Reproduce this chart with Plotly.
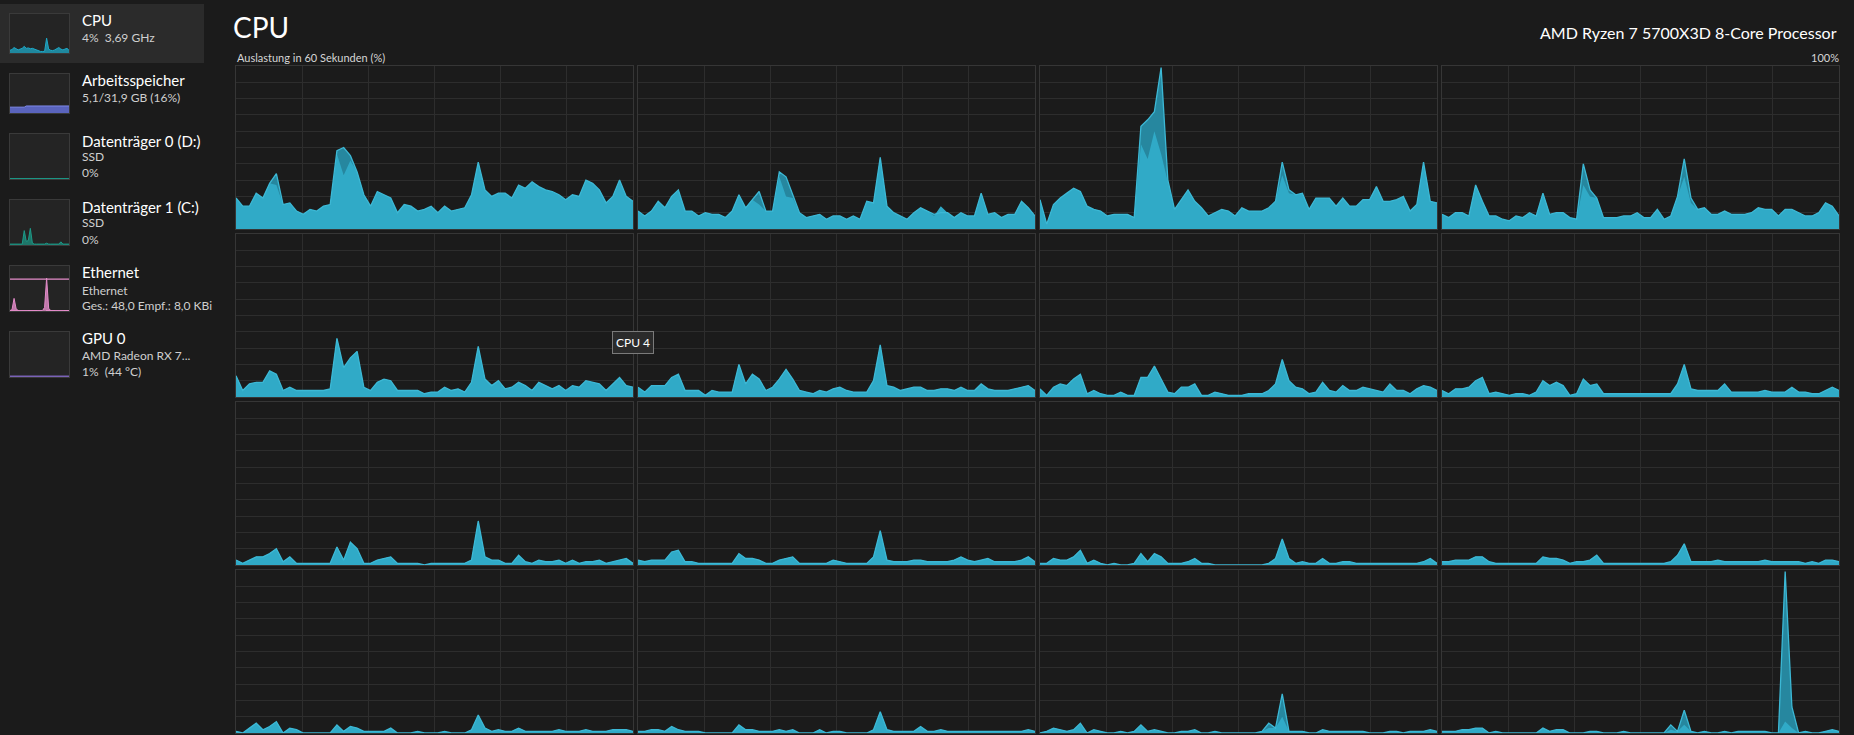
import plotly.graph_objects as go

W, H = 1854, 735
BG = "#1b1b1b"
FONT = "Segoe UI, Lato, sans-serif"

# per-core utilisation in %, one sample per second (60 s window)
cpu0 = [19, 14, 14, 22, 19, 28, 34, 15, 16, 11, 9, 12, 11, 14, 15, 48, 50, 45, 35, 21,
        14, 23, 21, 19, 10, 15, 14, 11, 12, 14, 10, 14, 11, 12, 13, 21, 41, 24, 20, 22,
        22, 19, 27, 25, 29, 26, 24, 23, 21, 18, 21, 20, 30, 28, 24, 16, 20, 30, 20, 17]
cpu1 = [11, 8, 11, 17, 13, 20, 24, 11, 11, 8, 10, 9, 9, 7, 11, 21, 13, 18, 23, 11,
        11, 35, 32, 21, 10, 7, 8, 9, 6, 8, 8, 6, 8, 6, 17, 16, 44, 14, 10, 8,
        6, 10, 13, 11, 9, 10, 10, 7, 10, 8, 8, 22, 9, 10, 7, 9, 9, 17, 13, 8]
cpu2 = [18, 3, 15, 19, 22, 25, 23, 14, 12, 11, 8, 9, 9, 9, 7, 63, 67, 72, 99, 30,
        12, 18, 24, 17, 13, 8, 10, 12, 11, 8, 13, 11, 11, 11, 13, 17, 41, 24, 21, 22,
        12, 19, 19, 19, 14, 19, 14, 14, 18, 18, 26, 17, 17, 18, 20, 11, 15, 41, 17, 16]
cpu3 = [9, 7, 10, 10, 8, 27, 17, 8, 8, 6, 5, 8, 7, 10, 8, 22, 9, 10, 10, 7,
        6, 40, 24, 19, 7, 7, 7, 8, 8, 10, 7, 7, 12, 6, 8, 20, 43, 19, 12, 13,
        9, 9, 11, 9, 9, 9, 10, 13, 12, 12, 8, 12, 12, 10, 8, 8, 10, 16, 14, 8]
cpu4 = [13, 4, 8, 9, 9, 16, 14, 4, 6, 4, 4, 4, 4, 4, 5, 36, 18, 24, 28, 6,
        4, 9, 11, 10, 4, 4, 4, 4, 2, 3, 3, 6, 4, 5, 3, 9, 31, 11, 7, 10,
        5, 6, 9, 7, 4, 9, 7, 5, 7, 4, 7, 6, 10, 9, 8, 4, 8, 12, 7, 6]
cpu5 = [6, 3, 7, 7, 7, 12, 14, 4, 4, 4, 1, 4, 3, 3, 3, 20, 8, 14, 11, 4,
        6, 11, 17, 11, 4, 3, 2, 4, 3, 5, 6, 4, 3, 3, 3, 10, 32, 7, 6, 4,
        5, 6, 6, 4, 4, 5, 5, 4, 6, 4, 4, 8, 5, 4, 4, 4, 5, 6, 7, 4]
cpu6 = [5, 1, 6, 8, 7, 11, 14, 2, 4, 2, 1, 1, 3, 1, 1, 12, 12, 19, 11, 3,
        2, 6, 6, 8, 1, 1, 3, 2, 1, 1, 1, 2, 2, 2, 4, 8, 23, 10, 6, 5,
        2, 3, 9, 4, 3, 7, 4, 4, 6, 5, 4, 3, 8, 4, 4, 2, 5, 7, 6, 4]
cpu7 = [4, 2, 5, 5, 6, 10, 12, 2, 3, 2, 1, 2, 2, 1, 3, 10, 7, 9, 7, 1,
        2, 11, 7, 8, 2, 2, 2, 2, 2, 2, 2, 2, 2, 2, 2, 8, 20, 5, 4, 4,
        4, 4, 8, 3, 3, 3, 3, 3, 4, 3, 3, 3, 6, 3, 3, 2, 2, 4, 6, 4]
cpu8 = [3, 1, 3, 5, 5, 7, 10, 2, 5, 1, 1, 1, 1, 1, 1, 11, 3, 14, 10, 1,
        1, 3, 4, 5, 1, 1, 1, 1, 0, 1, 1, 1, 1, 1, 1, 3, 27, 5, 3, 3,
        1, 1, 6, 2, 1, 3, 2, 2, 3, 1, 3, 1, 2, 2, 3, 1, 2, 3, 4, 1]
cpu9 = [3, 2, 3, 3, 3, 8, 9, 2, 2, 1, 1, 1, 1, 1, 1, 7, 4, 4, 3, 1,
        1, 3, 4, 5, 1, 1, 1, 1, 1, 3, 2, 1, 1, 1, 1, 5, 21, 3, 2, 2,
        2, 3, 3, 2, 2, 2, 2, 3, 5, 3, 2, 3, 4, 2, 2, 2, 2, 3, 5, 2]
cpu10 = [1, 1, 4, 3, 3, 5, 9, 1, 3, 1, 0, 1, 0, 0, 1, 7, 2, 7, 5, 1,
         1, 1, 2, 4, 1, 1, 0, 0, 0, 0, 0, 0, 0, 0, 1, 4, 16, 4, 1, 2,
         1, 1, 4, 1, 1, 2, 2, 1, 1, 1, 1, 1, 1, 1, 1, 1, 1, 2, 4, 1]
cpu11 = [2, 2, 3, 3, 3, 5, 5, 2, 1, 1, 1, 1, 1, 1, 1, 5, 4, 4, 3, 1,
         2, 2, 3, 6, 1, 1, 1, 1, 1, 1, 1, 1, 1, 1, 2, 6, 13, 2, 2, 2,
         2, 3, 2, 2, 2, 2, 2, 2, 3, 2, 2, 2, 2, 2, 1, 2, 1, 3, 3, 2]
cpu12 = [1, 0, 3, 6, 2, 4, 7, 0, 3, 2, 0, 0, 0, 0, 0, 5, 1, 4, 3, 1,
         1, 1, 1, 3, 0, 0, 0, 1, 0, 0, 0, 1, 0, 0, 0, 2, 11, 3, 1, 2,
         1, 1, 3, 1, 1, 1, 1, 1, 2, 1, 1, 1, 2, 1, 1, 1, 2, 2, 2, 1]
cpu13 = [1, 1, 2, 2, 1, 4, 2, 1, 1, 1, 0, 0, 0, 0, 0, 5, 2, 2, 1, 1,
         1, 2, 1, 2, 0, 0, 0, 2, 0, 1, 1, 0, 0, 0, 0, 2, 13, 2, 1, 1,
         1, 1, 4, 1, 1, 2, 1, 1, 1, 1, 1, 1, 1, 1, 1, 1, 1, 1, 2, 1]
cpu14 = [0, 1, 3, 2, 1, 2, 6, 0, 2, 1, 0, 0, 1, 0, 1, 5, 1, 2, 1, 0,
         0, 1, 1, 2, 0, 0, 1, 0, 0, 0, 0, 0, 0, 1, 6, 3, 24, 1, 1, 1,
         0, 0, 2, 1, 1, 1, 1, 1, 1, 0, 0, 0, 1, 1, 0, 1, 1, 1, 2, 1]
cpu15 = [1, 1, 1, 2, 2, 3, 3, 0, 1, 0, 0, 0, 0, 0, 0, 3, 1, 2, 2, 0,
         0, 0, 1, 1, 0, 0, 0, 1, 0, 0, 0, 0, 0, 0, 5, 1, 14, 1, 0, 1,
         0, 0, 1, 0, 1, 1, 1, 1, 1, 0, 0, 99, 16, 0, 1, 0, 0, 1, 2, 1]

cores = [cpu0, cpu1, cpu2, cpu3, cpu4, cpu5, cpu6, cpu7,
         cpu8, cpu9, cpu10, cpu11, cpu12, cpu13, cpu14, cpu15]
core_names = [f"CPU {i}" for i in range(16)]

# lighter (user) part, only listed where it sits below the total
user_part = {
    0: {6: 27, 15: 46, 16: 33, 17: 42},
    1: {18: 15, 21: 32, 22: 20, 23: 19, 44: 8, 45: 14},
    2: {15: 52, 16: 43, 17: 60, 18: 46, 19: 29, 36: 33, 37: 22},
    3: {21: 27, 22: 20, 36: 32, 37: 16},
    14: {34: 3, 36: 10},
    15: {34: 2, 36: 5, 51: 7, 52: 3},
}

# sidebar thumbnails
cpu_thumb = [7, 9, 14, 10, 8, 10, 12, 17, 12, 13, 11, 12, 10, 8, 4,
             4, 4, 4, 38, 10, 7, 6, 8, 10, 14, 10, 8, 10, 12, 7]
mem_thumb = [15, 15, 15, 15, 15, 15, 15, 15, 18, 18, 18, 18, 18, 18, 18,
             18, 18, 18, 18, 18, 18, 18, 18, 18, 18, 18, 18, 18, 18, 18]
disk0_thumb = [1, 1, 1, 1, 1, 1, 1, 1, 1, 1, 1, 1, 1, 1, 1,
               1, 1, 1, 1, 1, 1, 1, 1, 1, 1, 1, 1, 1, 1, 1]
disk1_thumb = [2, 2, 2, 2, 2, 3, 2, 32, 8, 10, 37, 4, 2, 2, 2,
               2, 2, 2, 4, 2, 2, 2, 2, 2, 2, 7, 2, 2, 2, 2]
eth_thumb = [1, 3, 28, 5, 1, 1, 1, 1, 1, 1, 1, 1, 1, 1, 1,
             1, 1, 8, 73, 6, 1, 1, 1, 1, 1, 1, 1, 1, 1, 1]
eth_recv = [1, 1, 1, 1, 1, 1, 1, 1, 1, 1, 1, 1, 1, 1, 1,
            1, 1, 1, 1, 1, 1, 1, 1, 1, 1, 1, 1, 1, 1, 1]
eth_scale = 71
gpu_thumb = [2, 2, 2, 2, 2, 2, 2, 2, 2, 3, 2, 2, 2, 2, 2,
             2, 2, 2, 2, 2, 3, 3, 2, 2, 2, 2, 2, 2, 3, 2]

sidebar = [
    ("CPU", ["4%  3,69 GHz"]),
    ("Arbeitsspeicher", ["5,1/31,9 GB (16%)"]),
    ("Datenträger 0 (D:)", ["SSD", "0%"]),
    ("Datenträger 1 (C:)", ["SSD", "0%"]),
    ("Ethernet", ["Ethernet", "Ges.: 48,0 Empf.: 8,0 KBi"]),
    ("GPU 0", ["AMD Radeon RX 7...", "1%  (44 °C)"]),
]

LIGHT = "#30aac7"
DARK = "#26879f"
EDGE = "#3cb8d5"

seconds = [k * 60 / 59 for k in range(60)]
thumb_x = list(range(30))

fig = go.Figure()
axes = {}


def ax_keys(n):
    s = "" if n == 1 else str(n)
    return "x" + s, "y" + s, "xaxis" + s, "yaxis" + s


def domx(x0, x1):
    return [x0 / W, x1 / W]


def domy(y0, y1):
    return [1 - y1 / H, 1 - y0 / H]


panel_axis = dict(showgrid=True, gridcolor="#2d2d2d", gridwidth=1, showline=True,
                  linecolor="#363636", linewidth=1, mirror=True, zeroline=False,
                  showticklabels=False, ticks="", fixedrange=True)

for i, vals in enumerate(cores):
    r, c = divmod(i, 4)
    x0 = 236 + c * 402
    y0 = 66 + r * 168
    xa, ya, xk, yk = ax_keys(i + 1)
    lower = [user_part.get(i, {}).get(k, v) for k, v in enumerate(vals)]
    fig.add_trace(go.Scatter(x=seconds, y=vals, xaxis=xa, yaxis=ya, mode="lines",
                             fill="tozeroy", fillcolor=DARK, line=dict(width=0),
                             hoverinfo="skip", name=core_names[i]))
    fig.add_trace(go.Scatter(x=seconds, y=lower, xaxis=xa, yaxis=ya, mode="lines",
                             fill="tozeroy", fillcolor=LIGHT, line=dict(width=0),
                             hoverinfo="skip", name=core_names[i]))
    fig.add_trace(go.Scatter(x=seconds, y=vals, xaxis=xa, yaxis=ya, mode="lines",
                             line=dict(color=EDGE, width=1.3), hoverinfo="skip",
                             name=core_names[i]))
    axes[xk] = dict(domain=domx(x0, x0 + 397), range=[0, 60], dtick=10, anchor=ya, **panel_axis)
    axes[yk] = dict(domain=domy(y0, y0 + 163), range=[0, 100], dtick=10, anchor=xa, **panel_axis)

thumb_axis = dict(showgrid=False, showline=True, linecolor="#3a3a3a", linewidth=1,
                  mirror=True, zeroline=False, showticklabels=False, ticks="",
                  fixedrange=True)

thumbs = [
    (cpu_thumb, 14, 53, "#1ea9c8", "rgba(30,169,200,0.75)"),
    (mem_thumb, 74, 113, "#7e89ea", "rgba(96,108,206,0.9)"),
    (disk0_thumb, 134, 179, "#1c9a88", "rgba(28,154,136,0.6)"),
    (disk1_thumb, 200, 245, "#1c9a88", "rgba(28,154,136,0.7)"),
    (eth_thumb, 266, 311, "#e58cca", "rgba(229,140,202,0.8)"),
    (gpu_thumb, 332, 377, "#8c6fd4", "rgba(140,111,212,0.6)"),
]

shapes = [dict(type="rect", xref="paper", yref="paper", x0=0, x1=204 / W,
               y0=1 - 63 / H, y1=1 - 4 / H, fillcolor="#2b2b2b", line=dict(width=0),
               layer="below")]

for j, (vals, ty0, ty1, lc, fc) in enumerate(thumbs):
    n = 17 + j
    xa, ya, xk, yk = ax_keys(n)
    shapes.append(dict(type="rect", xref="paper", yref="paper", x0=10 / W, x1=69 / W,
                       y0=1 - ty1 / H, y1=1 - ty0 / H, fillcolor="#242424",
                       line=dict(width=0), layer="below"))
    fig.add_trace(go.Scatter(x=thumb_x, y=vals, xaxis=xa, yaxis=ya, mode="lines",
                             fill="tozeroy", fillcolor=fc, line=dict(color=lc, width=1),
                             hoverinfo="skip"))
    if vals is eth_thumb:
        fig.add_trace(go.Scatter(x=thumb_x, y=eth_recv, xaxis=xa, yaxis=ya, mode="lines",
                                 line=dict(color=lc, width=1, dash="dash"), hoverinfo="skip"))
        shapes.append(dict(type="line", xref=xa, yref=ya, x0=0, x1=29, y0=eth_scale,
                           y1=eth_scale, line=dict(color=lc, width=1.2)))
    axes[xk] = dict(domain=domx(10, 69), range=[0, 29], anchor=ya, **thumb_axis)
    axes[yk] = dict(domain=domy(ty0, ty1), range=[0, 100], anchor=xa, **thumb_axis)

ann = []


def text(x, y, s, size, color="#ffffff", anchor="left"):
    ann.append(dict(x=x / W, y=1 - y / H, xref="paper", yref="paper", text=s,
                    showarrow=False, xanchor=anchor, yanchor="middle",
                    font=dict(family=FONT, size=size, color=color)))


text(231, 27, "CPU", 28)
text(1839, 33, "AMD Ryzen 7 5700X3D 8-Core Processor", 16, anchor="right")
text(235, 57, "Auslastung in 60 Sekunden (%)", 11, color="#d6d6d6")
text(1841, 57, "100%", 11, color="#d6d6d6", anchor="right")

title_y = [20, 80, 141, 207, 272, 338]
sub_y = [[38], [98], [157, 172], [223, 239], [290, 305], [355, 371]]
for (title, subs), ty, sys_ in zip(sidebar, title_y, sub_y):
    text(80, ty, title, 15)
    for s, sy in zip(subs, sys_):
        text(80, sy, s, 12, color="#cfcfcf")

ann.append(dict(x=633 / W, y=1 - 342 / H, xref="paper", yref="paper", text="CPU 4",
                showarrow=False, xanchor="center", yanchor="middle",
                bgcolor="#2b2b2b", bordercolor="#7a7a7a", borderwidth=1, borderpad=3,
                font=dict(family=FONT, size=12, color="#ffffff")))

fig.update_layout(width=W, height=H, margin=dict(l=0, r=0, t=0, b=0),
                  paper_bgcolor=BG, plot_bgcolor="rgba(0,0,0,0)", showlegend=False,
                  shapes=shapes, annotations=ann, **axes)

fig.write_html("out.html", config=dict(displayModeBar=False),
               post_script="document.body.style.margin='0';"
                           "document.body.style.background='#1b1b1b';"
                           "document.body.style.overflow='hidden';")
